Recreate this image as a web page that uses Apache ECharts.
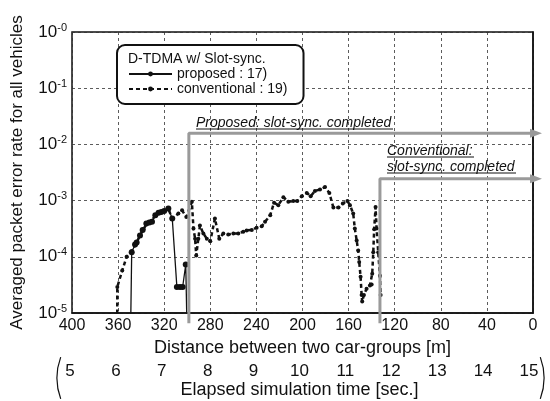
<!DOCTYPE html>
<html>
<head>
<meta charset="utf-8">
<script src="https://cdn.jsdelivr.net/npm/echarts@6/dist/echarts.min.js"></script>
<style>
  html, body { margin: 0; padding: 0; background: #fff; }
  #container { width: 550px; height: 401px; }
</style>
</head>
<body>
<div id="container"></div>
<script>
// PER = 0 can not be shown on a log axis, it is put far below 10^-5 and clipped
var ZERO_PER = 1e-7;

// proposed : 17)  -- distance [m] / averaged PER
var propDist = [350.3, 348.2, 345.3, 343.9, 341, 338.7, 335.5, 332.9, 330.6, 327.7,
  324.9, 322.5, 320, 316.4, 313, 309, 306.3, 304, 301.3, 298.6];
var propPer = [ZERO_PER, 1.2e-4, 1.65e-4, 1.8e-4, 2.4e-4, 3.0e-4, 3.9e-4, 4.07e-4, 4.2e-4, 5.5e-4,
  6.1e-4, 6.3e-4, 6.5e-4, 7.2e-4, 4.8e-4, 2.9e-5, 2.9e-5, 2.9e-5, 7.3e-5, ZERO_PER];

// conventional : 19)
var convDist = [361, 360.7, 356.4, 352.6, 348.2, 344.5, 341, 338, 335, 331,
  328, 324.5, 320, 316.5, 313, 307.7, 304.5, 300.8, 296, 294.6,
  293.2, 292.2, 290.4, 289, 286, 283, 280, 276, 272.2, 268.7,
  264.4, 260, 255.7, 251.4, 248.5, 244, 239.8, 235.4, 232.5, 228,
  224.7, 221, 216.6, 212.3, 208, 204.5, 200.6, 196.3, 192.9, 189.2,
  184.8, 180.5, 176.7, 173.2, 168.8, 165, 161, 158.8, 156, 154.6,
  153, 151.7, 150.8, 149.6, 148.7, 148.2, 146.7, 144.4, 141.5, 140,
  139.5, 138.6, 137.8, 136.6, 135.7, 134.3, 132.8, 132.2];
var convPer = [ZERO_PER, 2.9e-5, 5.7e-5, 1.0e-4, 1.25e-4, 1.7e-4, 2.4e-4, 3.1e-4, 3.9e-4, 4.3e-4,
  5.4e-4, 6.1e-4, 6.5e-4, 7.2e-4, 4.8e-4, 5.9e-4, 6.7e-4, 5.1e-4, 9.5e-4, 3.2e-4,
  2.1e-4, 1.05e-4, 2.1e-4, 3.6e-4, 2.6e-4, 2.1e-4, 1.9e-4, 4.8e-4, 2.1e-4, 2.6e-4,
  2.5e-4, 2.6e-4, 2.6e-4, 2.8e-4, 2.95e-4, 3.0e-4, 3.3e-4, 3.5e-4, 4.2e-4, 5.5e-4,
  9.2e-4, 8.3e-4, 1.15e-3, 9.5e-4, 9.8e-4, 9.8e-4, 1.2e-3, 1.37e-3, 1.2e-3, 1.48e-3,
  1.58e-3, 1.74e-3, 1.37e-3, 7.5e-4, 7.5e-4, 8.9e-4, 9.8e-4, 8.3e-4, 5.9e-4, 3.2e-4,
  1.95e-4, 1.3e-4, 8.1e-5, 4.4e-5, 2.1e-5, 1.6e-5, 2.1e-5, 2.7e-5, 3.1e-5, 3.2e-5,
  5e-5, 1.2e-4, 3.1e-4, 7.7e-4, 3.2e-4, 1.2e-4, 4.6e-5, 2.1e-5];

// sync completed markers: distance, level of the arrow
var syncDist = [298.6, 132.8];
var syncLevel = [1.58e-2, 2.46e-3];
var syncBottom = 6.6e-6;   // grey line runs a bit under the axis
var arrowEnd = -2.6;        // arrow runs a bit past 0 m

// tick labels
var yExpLabels = ["-0", "-1", "-2", "-3", "-4", "-5"];   // 10^0 ... 10^-5
var distMin = 0, distMax = 400, distStep = 40;
var timeMin = 5, timeMax = 15, timeStep = 1;
var legendLabels = { proposed: "proposed : 17)", conventional: "conventional : 19)" };

var FONT = "Liberation Sans, Arial, Helvetica, sans-serif";

function zip(xs, ys) {
  var out = [];
  for (var i = 0; i < xs.length; i++) out.push([xs[i], ys[i]]);
  return out;
}

function syncData(i) {
  return [
    [syncDist[i], syncBottom],
    [syncDist[i], syncLevel[i]],
    { value: [arrowEnd, syncLevel[i]], symbol: "triangle", symbolSize: [9, 12], symbolRotate: -90 }
  ];
}

var dom = document.getElementById("container");
var myChart = echarts.init(dom, null, { renderer: "canvas" });

var option = {
  animation: false,
  backgroundColor: "#fff",
  textStyle: { fontFamily: FONT, color: "#111" },
  grid: [
    { left: 72, top: 32, width: 461, height: 281, show: true, borderColor: "#111", borderWidth: 1.5 },
    { left: 70, top: 359, width: 459, height: 1, show: false }
  ],
  legend: {
    data: ["proposed", "conventional"],
    formatter: function (name) { return legendLabels[name]; },
    orient: "vertical",
    left: 117,
    top: 45,
    padding: [22, 16, 8, 11],
    itemWidth: 43,
    itemHeight: 6,
    itemGap: 1,
    selectedMode: false,
    textStyle: { fontSize: 14, lineHeight: 14, color: "#111", fontFamily: FONT },
    backgroundColor: "#fff",
    borderColor: "#111",
    borderWidth: 2,
    borderRadius: 8
  },
  xAxis: [
    {
      type: "value",
      gridIndex: 0,
      inverse: true,
      min: distMin,
      max: distMax,
      interval: distStep,
      name: "Distance between two car-groups [m]",
      nameLocation: "middle",
      nameGap: 22,
      nameTextStyle: { fontSize: 18, color: "#111", fontFamily: FONT },
      axisLine: { show: true, lineStyle: { color: "#111", width: 1.5 } },
      axisTick: { show: false },
      axisLabel: { fontSize: 16, color: "#111", margin: 5 },
      splitLine: { show: true, lineStyle: { color: "#333", type: [3, 3], width: 0.8 } }
    },
    {
      type: "value",
      gridIndex: 1,
      min: timeMin,
      max: timeMax,
      interval: timeStep,
      name: "Elapsed simulation time [sec.]",
      nameLocation: "middle",
      nameGap: 18,
      nameTextStyle: { fontSize: 18, color: "#111", fontFamily: FONT },
      axisLine: { show: false },
      axisTick: { show: false },
      axisLabel: { fontSize: 17, color: "#111", margin: 3 },
      splitLine: { show: false }
    }
  ],
  yAxis: [
    {
      type: "log",
      gridIndex: 0,
      logBase: 10,
      min: 1e-5,
      max: 1,
      name: "Averaged packet error rate for all vehicles",
      nameLocation: "middle",
      nameRotate: 90,
      nameGap: 46,
      nameTextStyle: { fontSize: 17, color: "#111", fontFamily: FONT },
      axisLine: { show: true, lineStyle: { color: "#111", width: 1.5 } },
      axisTick: { show: false },
      minorTick: { show: false },
      axisLabel: {
        margin: 5,
        formatter: function (v) {
          var e = Math.round(-Math.log10(v));
          return "{b|10}{s|" + yExpLabels[e] + "}";
        },
        rich: {
          b: { fontSize: 17, color: "#111", fontFamily: FONT },
          s: { fontSize: 11, color: "#111", fontFamily: FONT, padding: [0, 0, 9, 0] }
        }
      },
      splitLine: { show: true, lineStyle: { color: "#333", type: [3, 3], width: 0.8 } }
    },
    { type: "value", gridIndex: 1, show: false }
  ],
  series: [
    {
      name: "conventional",
      type: "line",
      data: zip(convDist, convPer),
      symbol: "circle",
      symbolSize: 4,
      showAllSymbol: true,
      itemStyle: { color: "#111" },
      lineStyle: { color: "#111", width: 2.5, type: [4, 3] },
      z: 3
    },
    {
      name: "proposed",
      type: "line",
      data: zip(propDist, propPer),
      symbol: "circle",
      symbolSize: 6,
      showAllSymbol: true,
      itemStyle: { color: "#111" },
      lineStyle: { color: "#111", width: 1.3 },
      z: 4
    },
    {
      name: "sync-proposed",
      type: "line",
      data: syncData(0),
      clip: false,
      silent: true,
      symbol: "circle",
      symbolSize: 0,
      itemStyle: { color: "#9a9a9a" },
      lineStyle: { color: "#9a9a9a", width: 3 },
      z: 5
    },
    {
      name: "sync-conventional",
      type: "line",
      data: syncData(1),
      clip: false,
      silent: true,
      symbol: "circle",
      symbolSize: 0,
      itemStyle: { color: "#9a9a9a" },
      lineStyle: { color: "#9a9a9a", width: 3 },
      z: 5
    }
  ],
  graphic: [
    // legend title
    { type: "text", left: 128, top: 52, z: 10,
      style: { text: "D-TDMA w/ Slot-sync.", font: "14px " + FONT, fill: "#111" } },
    // annotations
    { type: "text", left: 196, top: 116, z: 10,
      style: { text: "Proposed: slot-sync. completed", font: "italic 14px " + FONT, fill: "#111" } },
    { type: "line", z: 10, shape: { x1: 196, y1: 129, x2: 393, y2: 129 }, style: { stroke: "#111", lineWidth: 1 } },
    { type: "text", left: 387, top: 144, z: 10,
      style: { text: "Conventional:", font: "italic 14px " + FONT, fill: "#111" } },
    { type: "line", z: 10, shape: { x1: 387, y1: 157, x2: 474, y2: 157 }, style: { stroke: "#111", lineWidth: 1 } },
    { type: "text", left: 387, top: 160, z: 10,
      style: { text: "slot-sync. completed", font: "italic 14px " + FONT, fill: "#111" } },
    { type: "line", z: 10, shape: { x1: 387, y1: 173, x2: 516, y2: 173 }, style: { stroke: "#111", lineWidth: 1 } },
    // brackets round the time axis
    { type: "arc", z: 10, shape: { cx: 118, cy: 378, r: 61, startAngle: Math.PI - 0.35, endAngle: Math.PI + 0.35 },
      style: { stroke: "#111", lineWidth: 1.2, fill: null } },
    { type: "arc", z: 10, shape: { cx: 483, cy: 378, r: 61, startAngle: -0.35, endAngle: 0.35 },
      style: { stroke: "#111", lineWidth: 1.2, fill: null } }
  ]
};

if (option && typeof option === "object") {
  myChart.setOption(option);
}
window.addEventListener("resize", myChart.resize);
</script>
</body>
</html>
